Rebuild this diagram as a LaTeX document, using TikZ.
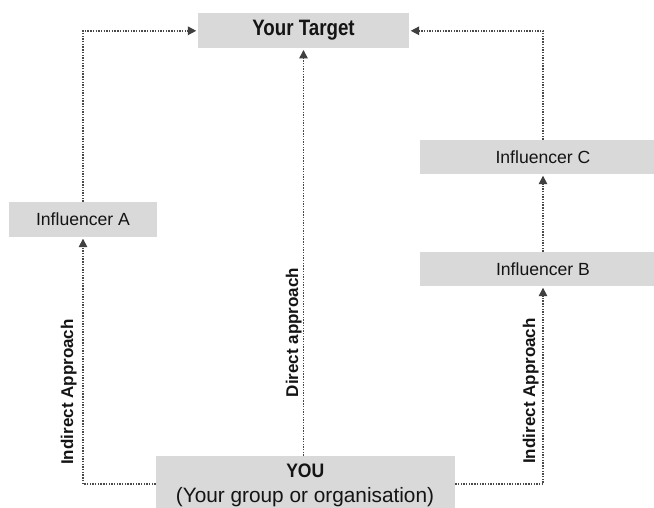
\documentclass[tikz,border=0pt]{standalone}
\usepackage{fontspec}
\setmainfont{Liberation Sans}
\newfontfamily\tgtfont[FakeStretch=0.84]{Liberation Sans}
\newfontfamily\youfont[FakeStretch=0.9]{Liberation Sans}
\usetikzlibrary{arrows.meta}
\definecolor{boxgray}{HTML}{D9D9D9}
\definecolor{txt}{HTML}{141414}
\definecolor{connc}{HTML}{4A4A4A}
\definecolor{arrowc}{HTML}{404040}
\begin{document}
\begin{tikzpicture}[x=1pt,y=-1pt,
  box/.style={fill=boxgray, draw=none, inner sep=0pt, text=txt},
  infl/.style={box, minimum height=34pt, font=\fontsize{17.6}{20}\selectfont, text height=12.6pt, text depth=0pt},
  conn/.style={draw=connc, line width=1.5pt, dash pattern=on 1.4pt off 1.3pt,
    -{Triangle[length=8.5pt,width=8.5pt,color=arrowc]}, shorten >=1.5pt},
  lab/.style={rotate=90, anchor=base, text=txt, font=\bfseries\fontsize{17}{20}\selectfont}]
\useasboundingbox (0,0) rectangle (654,508);
\clip (0,0) rectangle (654,508);
% boxes
\node[box, minimum width=211pt, minimum height=35pt, font=\tgtfont\bfseries\fontsize{22.3}{26}\selectfont,
  text height=16pt, text depth=5.6pt] (target) at (303.5,30.8) {Your Target};
\node[infl, minimum width=148pt, minimum height=35pt] (infA) at (83,219.5) {Influencer A};
\node[infl, minimum width=246pt] (infC) at (543,157) {Influencer C};
\node[infl, minimum width=246pt] (infB) at (543,269) {Influencer B};
\node[box, minimum width=299pt, minimum height=56pt] (you) at (305.5,484) {};
\node[anchor=base, inner sep=0pt, text=txt, font=\youfont\bfseries\fontsize{19.5}{22}\selectfont] (youlbl) at (305.3,477.7) {YOU};
\node[anchor=base, inner sep=0pt, text=txt, font=\fontsize{20.8}{24}\selectfont] (yousub) at (305,502) {(Your group or organisation)};
% connectors
\draw[conn] (infA.north) |- (target.west);
\draw[conn] (infC.north) |- (target.east);
\draw[conn] (you.north -| target.south) -- (target.south);
\draw[conn] (you.west) -| (infA.south);
\draw[conn] (you.east) -| (infB.south);
\draw[conn] (infB.north) -- (infC.south);
% labels
\node[lab] (l1) at (73,392) {Indirect Approach};
\node[lab] (l2) at (298,332.5) {Direct approach};
\node[lab] (l3) at (535,391) {Indirect Approach};
\end{tikzpicture}
\end{document}
